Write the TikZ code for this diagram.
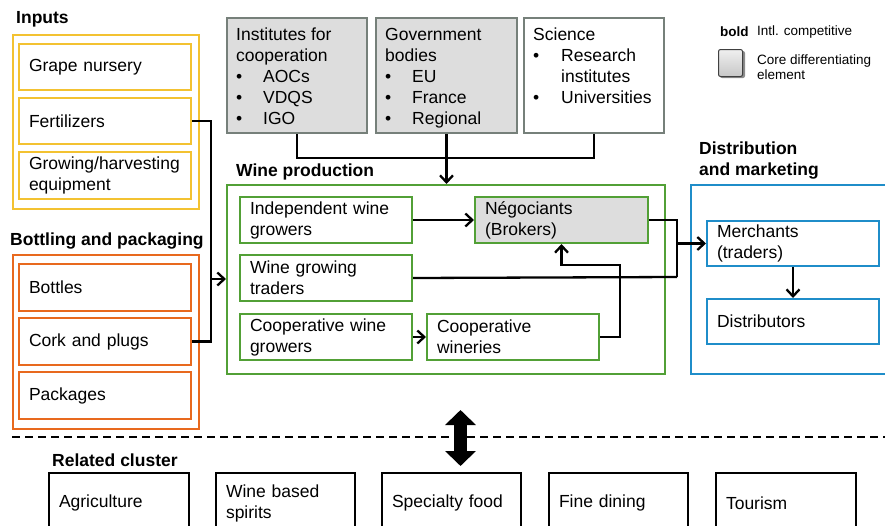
\documentclass[tikz,border=0pt]{standalone}
\usepackage{fontspec}
\setmainfont{Liberation Sans}
\usetikzlibrary{arrows.meta}
\definecolor{cyel}{HTML}{F3C231}
\definecolor{corg}{HTML}{E8691E}
\definecolor{cgrn}{HTML}{52A036}
\definecolor{cblu}{HTML}{1F8DC9}
\definecolor{cgryfill}{HTML}{DDDDDD}
\definecolor{cgrybd}{HTML}{76807A}
\begin{document}
\begin{tikzpicture}[x=1pt,y=-1pt,
  font=\fontsize{17.5}{21}\selectfont,
  frame/.style={draw,line width=2pt,anchor=north west,inner sep=0pt},
  ibox/.style={draw,line width=2pt,anchor=north west,align=left,inner xsep=10pt,inner ysep=0pt,text width=152pt,minimum width=172pt,minimum height=46pt},
  bbox/.style={draw,line width=2pt,anchor=north west,align=left,inner xsep=10pt,inner ysep=0pt,text width=119pt,minimum width=139pt,minimum height=60pt},
  title/.style={font=\fontsize{17.5}{21}\selectfont\bfseries,anchor=west,inner sep=0pt,align=left},
  lbl/.style={anchor=north west,inner sep=0pt,align=left},
  legend/.style={font=\fontsize{13.5}{15}\selectfont,anchor=west,inner sep=0pt,align=left},
  conn/.style={line width=2.3pt},
  arr/.style={line width=2.3pt,-{Straight Barb[length=7pt,width=13pt,line width=2.3pt]}}
]
\useasboundingbox (0,0) rectangle (885,525);

% ---------- Inputs ----------
\node[title] (tin) at (16,19) {Inputs};
\node[frame,draw=cyel,minimum width=186pt,minimum height=174pt] (inputs) at (12,34) {};
\node[ibox,draw=cyel] (grape) at (18,43) {Grape nursery};
\node[ibox,draw=cyel] (fert) at (18,97) {Fertilizers};
\node[ibox,draw=cyel,minimum height=47pt] (grow) at (18,151) {Growing/harvesting\\equipment};

% ---------- Bottling ----------
\node[title] (tbot) at (10,241) {Bottling and packaging};
\node[frame,draw=corg,minimum width=186pt,minimum height=174pt] (bottling) at (12,254) {};
\node[ibox,draw=corg,minimum height=47pt] (bottles) at (18,263) {Bottles};
\node[ibox,draw=corg,minimum height=47pt] (cork) at (18,317) {Cork and plugs};
\node[ibox,draw=corg,minimum height=47pt] (pack) at (18,371) {Packages};

% ---------- Top institutions ----------
\node[frame,draw=cgrybd,fill=cgryfill,minimum width=140pt,minimum height=115pt] (inst) at (226,17) {};
\node[lbl] (insttxt) at (236,28) {Institutes for\\cooperation\\\makebox[27pt][l]{•}AOCs\\\makebox[27pt][l]{•}VDQS\\\makebox[27pt][l]{•}IGO};
\node[frame,draw=cgrybd,fill=cgryfill,minimum width=141pt,minimum height=115pt] (gov) at (375,17) {};
\node[lbl] (govtxt) at (385,28) {Government\\bodies\\\makebox[27pt][l]{•}EU\\\makebox[27pt][l]{•}France\\\makebox[27pt][l]{•}Regional};
\node[frame,draw=cgrybd,minimum width=140pt,minimum height=115pt] (sci) at (523,17) {};
\node[lbl] (scitxt) at (533,28) {Science\\\makebox[28pt][l]{•}Research\\\makebox[28pt][l]{}institutes\\\makebox[28pt][l]{•}Universities};

% ---------- Legend ----------
\node[legend,font=\fontsize{13.5}{15}\selectfont\bfseries] (lgbold) at (720,32) {bold};
\node[legend] (lgintl) at (757,32) {Intl. competitive};
\fill[black!45,rounded corners=2pt] (720,51) rectangle (745,78);
\node[frame,line width=1pt,draw=black!75,top color=black!6,bottom color=black!22,rounded corners=2pt,minimum width=24pt,minimum height=27pt] (lgbox) at (718,49) {};
\node[legend] (lgcore) at (757,67) {Core differentiating\\element};

% ---------- Wine production ----------
\node[title] (twine) at (236,172) {Wine production};
\node[frame,draw=cgrn,minimum width=438pt,minimum height=189pt] (wine) at (226,184) {};
\node[ibox,draw=cgrn] (indep) at (239,196) {Independent wine\\growers};
\node[ibox,draw=cgrn,fill=cgryfill,minimum width=173pt,text width=153pt] (neg) at (474,196) {Négociants\\(Brokers)};
\node[ibox,draw=cgrn] (trad) at (239,254) {Wine growing\\traders};
\node[ibox,draw=cgrn] (coopg) at (239,313) {Cooperative wine\\growers};
\node[ibox,draw=cgrn] (coopw) at (426,313) {Cooperative\\wineries};

% ---------- Distribution ----------
\node[title] (tdist) at (699,161) {Distribution\\and marketing};
\node[frame,draw=cblu,minimum width=200pt,minimum height=189pt] (dist) at (690,184) {};
\node[ibox,draw=cblu,minimum height=45pt] (merch) at (706,220) {Merchants\\(traders)};
\node[ibox,draw=cblu,minimum height=45pt] (distr) at (706,298) {Distributors};

% ---------- Connectors ----------
\coordinate (j1) at (211,279);
\draw[conn] (fert.east) -| (j1);
\draw[conn] (cork.east) -| (j1);
\draw[arr] (j1) -- (wine.west |- j1);

\coordinate (j2) at (445,158);
\draw[conn] (inst.south) |- (j2) -| (sci.south);
\draw[arr] (gov.south) -- (gov.south |- wine.north);

\draw[arr] (indep.east) -- (neg.west |- indep.east);
\draw[arr] (coopg.east) -- (coopw.west |- coopg.east);
\coordinate (c1) at (620,265);
\draw[arr] (coopw.east) -| (c1) -| (neg.south);

\coordinate (j3) at (677,277);
\draw[conn] (neg.east) -| (j3);
\draw[conn] (trad.east) -- (j3);
\draw[arr] (j3 |- merch.west) -- (merch.west);
\draw[arr] (merch.south) -- (distr.north);

% ---------- Divider ----------
\coordinate (d1) at (12,437);
\coordinate (d2) at (885,437);
\draw[line width=2.5pt,dash pattern=on 8pt off 5pt] (d1) -- (d2);
\coordinate (a1) at (460.5,410);
\coordinate (a2) at (460.5,466);
\draw[line width=13pt,{Triangle[width=30pt,length=15pt]}-{Triangle[width=30pt,length=15pt]}] (a1) -- (a2);

% ---------- Related cluster ----------
\node[title] (trel) at (52,460) {Related cluster};
\node[bbox,minimum width=140pt,text width=120pt] (agri) at (48,472) {Agriculture};
\node[bbox] (spir) at (215,472) {Wine based\\spirits};
\node[bbox] (food) at (381,472) {Specialty food};
\node[bbox] (dine) at (548,472) {Fine dining};
\node[bbox,minimum width=140pt,text width=120pt] (tour) at (715,472) {Tourism};
\end{tikzpicture}
\end{document}
